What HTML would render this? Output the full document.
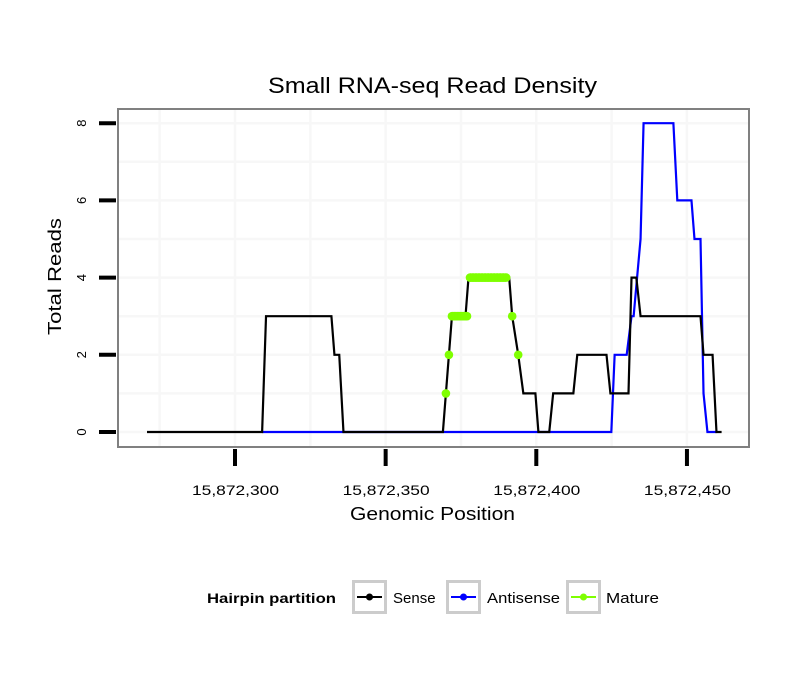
<!DOCTYPE html>
<html><head><meta charset="utf-8"><style>
body{margin:0;background:#fff;}
svg{display:block;font-family:"Liberation Sans",sans-serif;}
</style></head><body>
<svg id="chart" width="810" height="690" viewBox="0 0 810 690">
<rect x="0" y="0" width="810" height="690" fill="#fff"/>
<text x="268" y="93" font-size="22" textLength="329" lengthAdjust="spacingAndGlyphs">Small RNA-seq Read Density</text>
<g id="grid"></g>
<g id="series"></g>
<rect x="118" y="109" width="631" height="338" fill="none" stroke="#808080" stroke-width="2"/>
<g id="axes"></g>
<text x="350" y="520" font-size="18" textLength="165" lengthAdjust="spacingAndGlyphs">Genomic Position</text>
<text transform="translate(61,335) rotate(-90)" font-size="18" textLength="117" lengthAdjust="spacingAndGlyphs">Total Reads</text>
<g>
<text x="207" y="603" font-size="14" font-weight="bold" textLength="129" lengthAdjust="spacingAndGlyphs">Hairpin partition</text>
<g>
<rect x="353.5" y="581.5" width="32" height="31" fill="#fff" stroke="#ccc" stroke-width="3"/>
<line x1="357" y1="597" x2="382" y2="597" stroke="#000" stroke-width="2"/><circle cx="369.5" cy="597" r="3.5" fill="#000"/>
<text x="393" y="603" font-size="15">Sense</text></g>
<g>
<rect x="447.5" y="581.5" width="32" height="31" fill="#fff" stroke="#ccc" stroke-width="3"/>
<line x1="451" y1="597" x2="476" y2="597" stroke="#00f" stroke-width="2"/><circle cx="463.5" cy="597" r="3.5" fill="#00f"/>
<text x="487" y="603" font-size="15" textLength="73" lengthAdjust="spacingAndGlyphs">Antisense</text></g>
<g>
<rect x="567.5" y="581.5" width="32" height="31" fill="#fff" stroke="#ccc" stroke-width="3"/>
<line x1="571" y1="597" x2="596" y2="597" stroke="#7fff00" stroke-width="2"/><circle cx="583.5" cy="597" r="3.5" fill="#7fff00"/>
<text x="606" y="603" font-size="15" textLength="53" lengthAdjust="spacingAndGlyphs">Mature</text></g>
</g>
</svg>
<script>
const base = 15872000;
const xTicks = [15872300, 15872350, 15872400, 15872450];
const xTickLabels = ["15,872,300", "15,872,350", "15,872,400", "15,872,450"];
const yTicks = [0, 2, 4, 6, 8];
const senseX = [270.8,309,310.3,332,333,334.6,336,369,372,376.5,377.5,391,392,394,395.7,399.7,400.7,404.3,405.6,412.3,413.6,423.3,424.6,430.6,431.6,433.2,434.6,454.5,455.5,458.5,459.8,461.5];
const senseY = [0,0,3,3,2,2,0,0,3,3,4,4,3,2,1,1,0,0,1,1,2,2,1,1,4,4,3,3,2,2,0,0];
const antiX = [309,424.9,426,430,431.6,432.3,434.6,435.6,445.5,446.8,451.5,452.5,454.5,455.5,456.8,459.8];
const antiY = [0,0,2,2,3,3,5,8,8,6,6,5,5,1,0,0];
const matureX = [370,371,372,373,374,375,376,377,378,379,380,381,382,383,384,385,386,387,388,389,390,392,394];
const matureY = [1,2,3,3,3,3,3,3,4,4,4,4,4,4,4,4,4,4,4,4,4,3,2];

const NS = "http://www.w3.org/2000/svg";
function xs(p){ return 235 + (p - 15872300) * 3.013; }
function ys(v){ return 432 - v * 38.6; }
function mk(tag, attrs, parent){
  const e = document.createElementNS(NS, tag);
  for (const k in attrs) e.setAttribute(k, attrs[k]);
  parent.appendChild(e); return e;
}
const grid = document.getElementById('grid');
for (let v = 0; v <= 8; v++) {
  const l = mk('line', {x1:119, x2:748, y1:ys(v), y2:ys(v), stroke:'#f7f7f7', 'stroke-width': 2.5}, grid);
  
  
}
for (let p = 15872275; p <= 15872475; p += 25) {
  const x = xs(p); if (x < 119 || x > 748) continue;
  const l = mk('line', {x1:x, x2:x, y1:110, y2:446, stroke:'#f7f7f7', 'stroke-width':2.5}, grid);
  
  
}
const series = document.getElementById('series');
function poly(X, Y, color, w, name){
  const pts = X.map((x,i)=> xs(base + x) + ',' + ys(Y[i])).join(' ');
  const p = mk('polyline', {points:pts, fill:'none', stroke:color, 'stroke-width':w, 'stroke-linejoin':'miter'}, series);
  
  
}
poly(antiX, antiY, '#0000ff', 2.2, 'antisense-line');
poly(senseX, senseY, '#000000', 2.2, 'sense-line');
matureX.forEach((x,i)=>{
  const c = mk('circle', {cx:xs(base + x), cy:ys(matureY[i]), r:4.3, fill:'#7fff00'}, series);
  
  
});
for (let i = 1; i < matureX.length; i++) {
  if (matureY[i] === matureY[i-1] && matureX[i] - matureX[i-1] === 1) {
    const s = mk('line', {x1:xs(base+matureX[i-1]), x2:xs(base+matureX[i]), y1:ys(matureY[i]), y2:ys(matureY[i]), stroke:'#7fff00', 'stroke-width':8.6}, series);
    
    
  }
}

const axes = document.getElementById('axes');
yTicks.forEach(v=>{
  const t = mk('line', {x1:99, x2:116, y1:ys(v), y2:ys(v), stroke:'#000', 'stroke-width':4}, axes);
  
  
  const tx = mk('text', {transform:'translate(86,' + ys(v) + ') rotate(-90)', 'font-size':13, 'text-anchor':'middle'}, axes);
  tx.textContent = String(v);
  
  
});
xTicks.forEach((p,i)=>{
  const x = xs(p);
  const t = mk('line', {x1:x, x2:x, y1:449, y2:466, stroke:'#000', 'stroke-width':4}, axes);
  
  
  const tx = mk('text', {x:x - 43, y:495, 'font-size':14, textLength:87, lengthAdjust:'spacingAndGlyphs'}, axes);
  tx.textContent = xTickLabels[i];
  
  
});
</script>
</body></html>
